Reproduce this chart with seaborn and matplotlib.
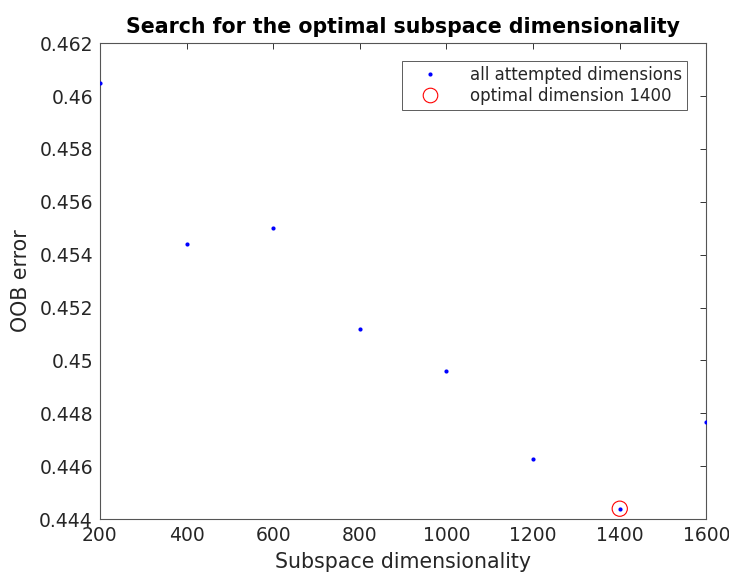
import matplotlib
matplotlib.use("Agg")
import matplotlib.pyplot as plt
import seaborn as sns
import pandas as pd
from matplotlib.ticker import FuncFormatter, FixedLocator
from matplotlib.lines import Line2D

dims = [200, 400, 600, 800, 1000, 1200, 1400, 1600]
oob_error = [0.4605, 0.4544, 0.4550, 0.4512, 0.4496, 0.44628, 0.44439, 0.44768]
opt_dim = [1400]
opt_err = [0.44439]
x_ticks = [200, 400, 600, 800, 1000, 1200, 1400, 1600]
y_ticks = [0.444, 0.446, 0.448, 0.45, 0.452, 0.454, 0.456, 0.458, 0.46, 0.462]

sns.set_style("white")
plt.rcParams['font.family'] = ['DejaVu Sans']

df = pd.DataFrame({"dim": dims, "err": oob_error})
df_opt = pd.DataFrame({"dim": opt_dim, "err": opt_err})

fig = plt.figure(figsize=(7.29, 5.74), dpi=100)
ax = fig.add_axes([0.137, 0.0958, 0.832, 0.829])

sns.scatterplot(data=df, x="dim", y="err", ax=ax, color="blue", s=9,
                edgecolor="blue", linewidth=0, zorder=3)
sns.scatterplot(data=df_opt, x="dim", y="err", ax=ax, s=120, marker="o",
                facecolor="none", edgecolor="red", linewidth=0.8, zorder=2)

ax.set_xlim(200, 1600)
ax.set_ylim(0.444, 0.462)
ax.xaxis.set_major_locator(FixedLocator(x_ticks))
ax.yaxis.set_major_locator(FixedLocator(y_ticks))
ax.yaxis.set_major_formatter(FuncFormatter(lambda v, p: "%g" % round(v, 4)))

spine_col = "#555555"
for s in ax.spines.values():
    s.set_visible(True)
    s.set_color(spine_col)
    s.set_linewidth(0.8)
ax.tick_params(direction="in", length=4, width=0.7, color="#333333",
               top=True, right=True, labelsize=13.5, labelcolor="#262626")
ax.tick_params(axis="x", pad=5)
ax.tick_params(axis="y", pad=5)

ax.set_xlabel("Subspace dimensionality", fontsize=14.8, color="#262626", labelpad=5)
ax.set_ylabel("OOB error", fontsize=14.8, color="#262626", labelpad=6)
ax.set_title("Search for the optimal subspace dimensionality", fontsize=14.8,
             fontweight="bold", color="black", pad=7)

handles = [
    Line2D([], [], linestyle="none", marker="o", markersize=3, color="blue",
           markeredgewidth=0),
    Line2D([], [], linestyle="none", marker="o", markersize=10.5,
           markerfacecolor="none", markeredgecolor="red", markeredgewidth=0.8),
]
leg = ax.legend(handles, ["all attempted dimensions", "optimal dimension 1400"],
                loc="upper right", bbox_to_anchor=(0.968, 0.963), fontsize=12,
                frameon=True, fancybox=False, borderpad=0.3, labelspacing=0.2,
                handletextpad=1.0, handlelength=2.8, borderaxespad=0)
leg.get_frame().set_edgecolor("#333333")
leg.get_frame().set_linewidth(0.7)

fig.savefig("out.png", dpi=100)
